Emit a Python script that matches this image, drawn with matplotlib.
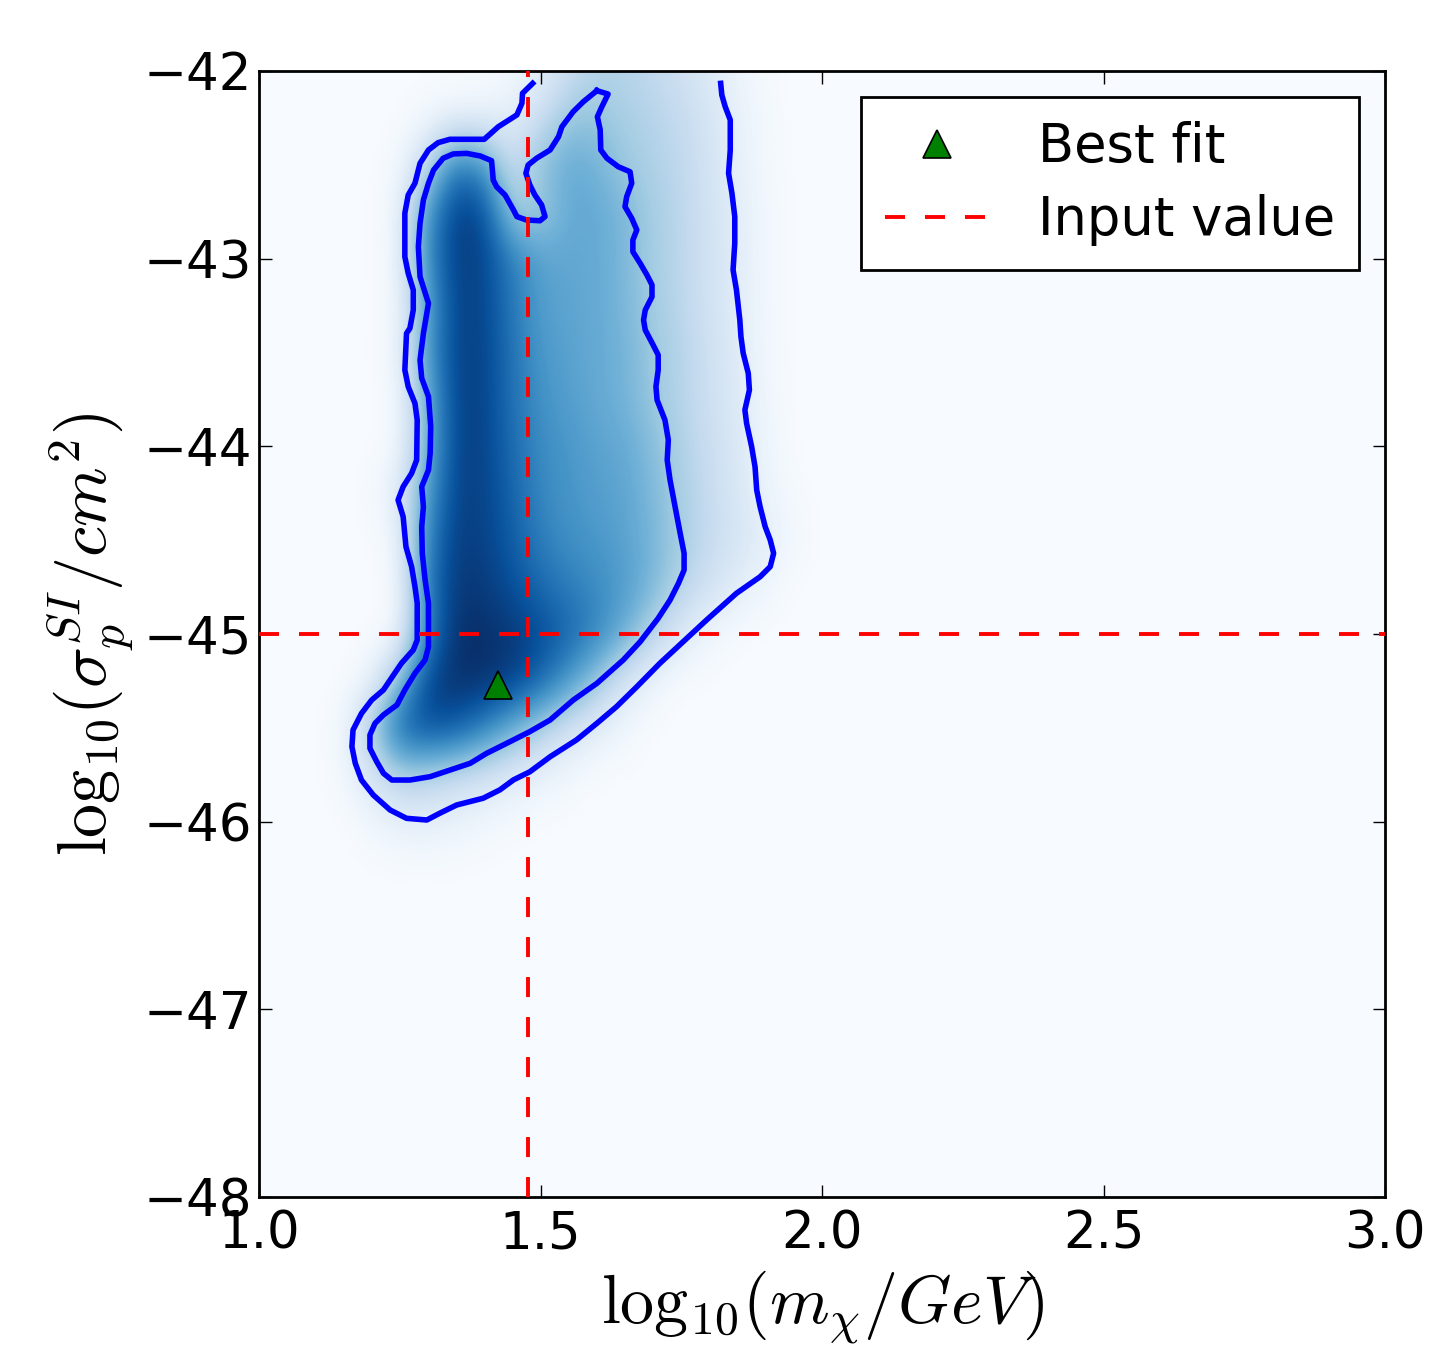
import numpy as np
import matplotlib
matplotlib.use("Agg")
import matplotlib.pyplot as plt
from matplotlib.lines import Line2D

plt.rcParams['mathtext.fontset'] = 'cm'
plt.rcParams['font.family'] = ['DejaVu Sans']
plt.rcParams['lines.scale_dashes'] = False

# ---- density grid, columns = x, rows = y ----
grid_x = [1.10, 1.15, 1.20, 1.25, 1.30, 1.35, 1.40, 1.45, 1.50, 1.55,
          1.60, 1.65, 1.70, 1.75, 1.80, 1.85, 1.90, 1.95, 2.00]
grid_y = [-42.00, -42.25, -42.50, -42.75, -43.00, -43.25, -43.50, -43.75, -44.00,
          -44.25, -44.50, -44.75, -45.00, -45.25, -45.50, -45.75, -46.00, -46.25]
density = [
    [0, 0, 0, 0, 0, 0, 0, 0.02, 0.08, 0.22, 0.30, 0.30, 0.26, 0.20, 0.13, 0.05, 0.01, 0, 0],
    [0, 0, 0, 0, 0.02, 0.05, 0.06, 0.10, 0.22, 0.38, 0.40, 0.34, 0.30, 0.25, 0.17, 0.08, 0.02, 0, 0],
    [0, 0, 0, 0.02, 0.25, 0.72, 0.60, 0.20, 0.42, 0.52, 0.48, 0.38, 0.32, 0.27, 0.18, 0.09, 0.02, 0, 0],
    [0, 0, 0, 0.05, 0.60, 0.95, 0.90, 0.35, 0.35, 0.52, 0.52, 0.46, 0.35, 0.28, 0.19, 0.10, 0.03, 0, 0],
    [0, 0, 0, 0.05, 0.65, 0.95, 0.92, 0.70, 0.55, 0.53, 0.52, 0.46, 0.35, 0.28, 0.19, 0.11, 0.03, 0, 0],
    [0, 0, 0, 0.03, 0.55, 0.93, 0.92, 0.72, 0.57, 0.54, 0.52, 0.46, 0.36, 0.28, 0.19, 0.11, 0.03, 0, 0],
    [0, 0, 0, 0.05, 0.60, 0.93, 0.93, 0.74, 0.60, 0.55, 0.52, 0.48, 0.38, 0.30, 0.21, 0.12, 0.03, 0, 0],
    [0, 0, 0, 0.02, 0.50, 0.93, 0.93, 0.75, 0.62, 0.57, 0.52, 0.48, 0.38, 0.30, 0.21, 0.13, 0.04, 0, 0],
    [0, 0, 0, 0.02, 0.48, 0.93, 0.93, 0.77, 0.65, 0.60, 0.55, 0.52, 0.43, 0.32, 0.23, 0.14, 0.05, 0, 0],
    [0, 0, 0.01, 0.12, 0.58, 0.93, 0.93, 0.80, 0.66, 0.61, 0.57, 0.54, 0.45, 0.34, 0.24, 0.15, 0.06, 0.01, 0],
    [0, 0, 0, 0.05, 0.68, 0.95, 0.93, 0.83, 0.70, 0.63, 0.60, 0.55, 0.47, 0.35, 0.25, 0.17, 0.10, 0.03, 0],
    [0, 0, 0, 0.02, 0.72, 0.97, 0.96, 0.88, 0.78, 0.70, 0.65, 0.58, 0.46, 0.31, 0.19, 0.11, 0.04, 0, 0],
    [0, 0, 0, 0.02, 0.68, 1.00, 1.00, 0.97, 0.90, 0.80, 0.68, 0.50, 0.30, 0.13, 0.04, 0, 0, 0, 0],
    [0, 0, 0.05, 0.42, 0.92, 1.00, 1.00, 0.95, 0.80, 0.60, 0.38, 0.17, 0.05, 0, 0, 0, 0, 0, 0],
    [0, 0.03, 0.35, 0.82, 0.90, 0.85, 0.70, 0.50, 0.33, 0.19, 0.10, 0.03, 0, 0, 0, 0, 0, 0, 0],
    [0, 0.02, 0.17, 0.33, 0.31, 0.25, 0.19, 0.12, 0.07, 0.03, 0, 0, 0, 0, 0, 0, 0, 0, 0],
    [0, 0, 0.03, 0.08, 0.09, 0.06, 0.03, 0.01, 0, 0, 0, 0, 0, 0, 0, 0, 0, 0, 0],
    [0, 0, 0, 0, 0, 0, 0, 0, 0, 0, 0, 0, 0, 0, 0, 0, 0, 0, 0],
]

# ---- outer (open) contour ----
outer_x = [1.486, 1.468, 1.467, 1.458, 1.446, 1.425, 1.400, 1.339, 1.318, 1.301, 1.286, 1.277,
           1.265, 1.259, 1.259, 1.265, 1.274, 1.274, 1.268, 1.262, 1.259, 1.265, 1.277, 1.281,
           1.280, 1.271, 1.256, 1.247, 1.256, 1.261, 1.271, 1.277, 1.281, 1.281, 1.274, 1.253,
           1.239, 1.221, 1.200, 1.182, 1.167, 1.165, 1.171, 1.182, 1.203, 1.233, 1.262, 1.298,
           1.321, 1.351, 1.398, 1.428, 1.452, 1.481, 1.517, 1.564, 1.600, 1.635, 1.671, 1.712,
           1.795, 1.848, 1.890, 1.908, 1.914, 1.908, 1.899, 1.890, 1.884, 1.881, 1.875, 1.866,
           1.863, 1.871, 1.869, 1.860, 1.856, 1.854, 1.848, 1.842, 1.845, 1.845, 1.840, 1.834,
           1.837, 1.837, 1.828, 1.822, 1.820]
outer_y = [-42.066, -42.119, -42.172, -42.234, -42.257, -42.297, -42.364, -42.364, -42.382, -42.421,
           -42.492, -42.598, -42.661, -42.758, -42.990, -43.078, -43.167, -43.273, -43.371, -43.398,
           -43.593, -43.682, -43.771, -43.860, -44.073, -44.144, -44.215, -44.286, -44.375, -44.535,
           -44.641, -44.748, -44.836, -45.032, -45.085, -45.156, -45.218, -45.298, -45.352, -45.423,
           -45.511, -45.600, -45.689, -45.778, -45.858, -45.938, -45.982, -45.991, -45.955, -45.911,
           -45.875, -45.830, -45.777, -45.734, -45.654, -45.564, -45.476, -45.387, -45.281, -45.156,
           -44.925, -44.783, -44.695, -44.641, -44.570, -44.499, -44.428, -44.322, -44.233, -44.109,
           -44.002, -43.877, -43.806, -43.700, -43.611, -43.504, -43.416, -43.327, -43.167, -43.060,
           -42.918, -42.776, -42.652, -42.545, -42.421, -42.261, -42.190, -42.128, -42.066]

# ---- inner (closed) contour ----
inner_x = [1.600, 1.620, 1.609, 1.601, 1.606, 1.607, 1.618, 1.638, 1.659, 1.662, 1.653, 1.650,
           1.662, 1.671, 1.664, 1.664, 1.677, 1.689, 1.698, 1.698, 1.686, 1.683, 1.686, 1.700,
           1.709, 1.709, 1.705, 1.707, 1.721, 1.727, 1.725, 1.730, 1.739, 1.748, 1.755, 1.755,
           1.745, 1.730, 1.709, 1.677, 1.647, 1.600, 1.558, 1.517, 1.481, 1.446, 1.404, 1.375,
           1.339, 1.304, 1.268, 1.236, 1.221, 1.209, 1.197, 1.197, 1.206, 1.221, 1.245, 1.259,
           1.277, 1.295, 1.301, 1.301, 1.295, 1.290, 1.289, 1.292, 1.289, 1.301, 1.304, 1.305,
           1.301, 1.289, 1.286, 1.292, 1.301, 1.286, 1.283, 1.286, 1.292, 1.301, 1.310, 1.327,
           1.345, 1.369, 1.393, 1.413, 1.416, 1.422, 1.437, 1.452, 1.458, 1.475, 1.499, 1.508,
           1.502, 1.490, 1.481, 1.474, 1.478, 1.493, 1.517, 1.532, 1.538, 1.558, 1.576, 1.600]
inner_y = [-42.105, -42.123, -42.190, -42.244, -42.314, -42.421, -42.465, -42.510, -42.537, -42.598,
           -42.670, -42.723, -42.785, -42.847, -42.901, -42.963, -43.025, -43.087, -43.140, -43.203,
           -43.274, -43.327, -43.380, -43.460, -43.513, -43.593, -43.682, -43.753, -43.860, -43.966,
           -44.073, -44.179, -44.322, -44.463, -44.570, -44.659, -44.730, -44.819, -44.916, -45.041,
           -45.138, -45.263, -45.352, -45.458, -45.520, -45.573, -45.636, -45.689, -45.725, -45.760,
           -45.778, -45.778, -45.742, -45.680, -45.609, -45.538, -45.476, -45.431, -45.378, -45.298,
           -45.209, -45.138, -45.068, -44.836, -44.712, -44.570, -44.428, -44.322, -44.215, -44.126,
           -44.037, -43.895, -43.735, -43.637, -43.540, -43.398, -43.238, -43.096, -42.936, -42.812,
           -42.687, -42.598, -42.528, -42.465, -42.442, -42.439, -42.453, -42.478, -42.581, -42.617,
           -42.661, -42.741, -42.776, -42.794, -42.798, -42.776, -42.714, -42.661, -42.607, -42.545,
           -42.501, -42.465, -42.421, -42.350, -42.297, -42.217, -42.164, -42.105]

best_fit_x = [1.4236]
best_fit_y = [-45.274]
input_mass = 1.477
input_sigma = -45.0

x_ticks = [1.0, 1.5, 2.0, 2.5, 3.0]
y_ticks = [-48, -47, -46, -45, -44, -43, -42]

# ---- figure ----
fig = plt.figure(figsize=(14.39, 13.52), dpi=100)
fig.patch.set_facecolor('white')
ax = fig.add_axes([0.18, 0.1146, 0.7825, 0.8329])
cmap = plt.get_cmap('Blues')
ax.set_facecolor(cmap(0.0))

dx = grid_x[1] - grid_x[0]
dy = grid_y[0] - grid_y[1]
ax.imshow(np.array(density), cmap=cmap, vmin=0, vmax=1, origin='upper',
          extent=(grid_x[0] - dx / 2, grid_x[-1] + dx / 2, grid_y[-1] - dy / 2, grid_y[0] + dy / 2),
          interpolation='bicubic', aspect='auto', zorder=0)

ax.plot(outer_x, outer_y, color='#0000ff', lw=4, solid_joinstyle='round', zorder=2)
ax.plot(inner_x, inner_y, color='#0000ff', lw=4, solid_joinstyle='round', zorder=2)

dash = (14.4, 14.4)
ax.axvline(input_mass, color='red', lw=2.8, ls='--', dashes=dash, zorder=3)
ax.axhline(input_sigma, color='red', lw=2.8, ls='--', dashes=dash, zorder=3)
bf, = ax.plot(best_fit_x, best_fit_y, '^', color='green', mec='black', mew=1.2, ms=20, zorder=4)

ax.set_xlim(1.0, 3.0)
ax.set_ylim(-48, -42)
ax.set_xticks(x_ticks)
ax.set_yticks(y_ticks)
ax.set_xticklabels(['1.0', '1.5', '2.0', '2.5', '3.0'])
ax.tick_params(direction='in', length=9, width=1, labelsize=37, top=True, right=True)
ax.tick_params(axis='x', pad=9)
ax.tick_params(axis='y', pad=5)
for s in ax.spines.values():
    s.set_linewidth(2)

ax.set_xlabel(r'$\mathrm{log}_{10}(m_\chi/GeV)$', fontsize=49, labelpad=6)
ax.set_ylabel(r'$\mathrm{log}_{10}(\sigma_p^{SI}/cm^2)$', fontsize=49, labelpad=6)

h_in = Line2D([], [], color='red', lw=2.8, ls='--', dashes=dash)
leg = ax.legend([bf, h_in], ['Best fit', 'Input value'], loc='upper right', numpoints=1,
                fontsize=38, fancybox=False, framealpha=1, edgecolor='black',
                handlelength=2.0, handletextpad=0.9, borderpad=0.45, labelspacing=0.4,
                borderaxespad=0.5)
leg.get_frame().set_linewidth(2)

fig.savefig('out.png', dpi=100)
